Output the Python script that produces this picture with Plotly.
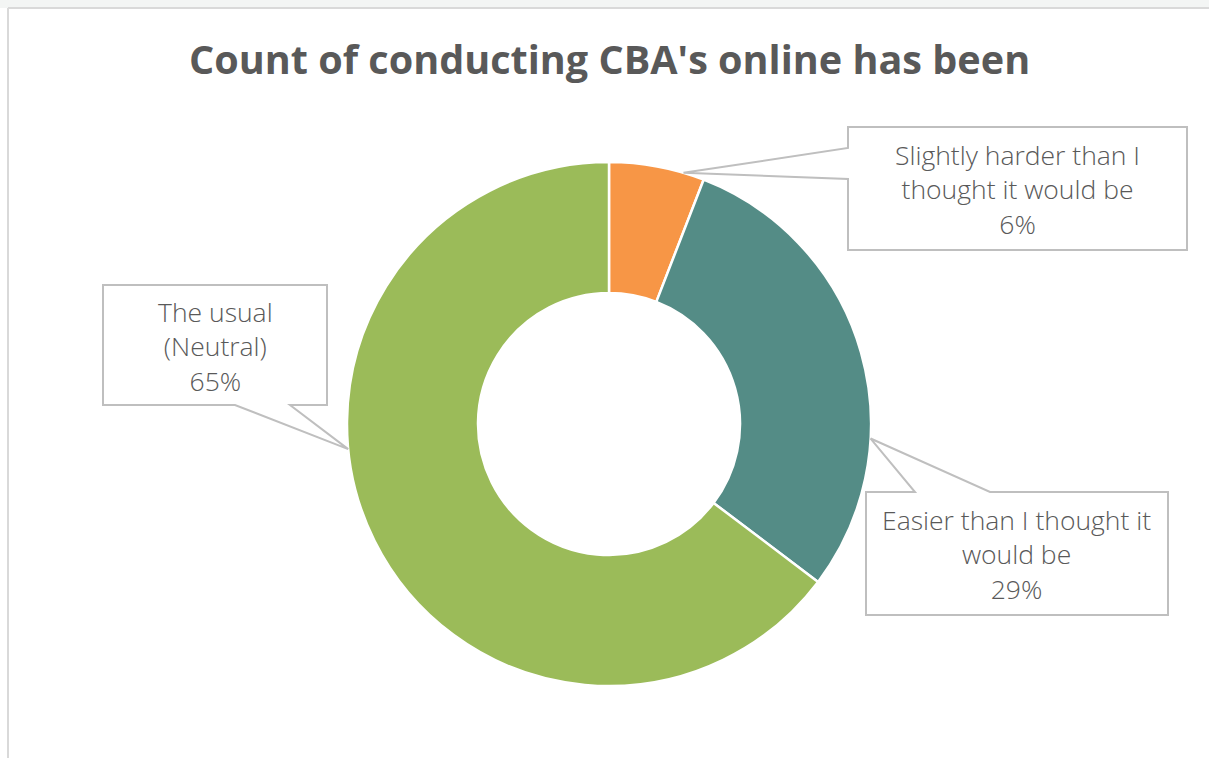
import plotly.graph_objects as go
import math

# ---- data ----
categories = ["Slightly harder than I thought it would be",
              "Easier than I thought it would be",
              "The usual (Neutral)"]
label_lines = [["Slightly harder than I", "thought it would be"],
               ["Easier than I thought it", "would be"],
               ["The usual", "(Neutral)"]]
counts = [1, 5, 11]
colors = ["#F79646", "#548C86", "#9BBB59"]
title = "Count of conducting CBA's online has been"

# ---- layout helpers (pixels) ----
W, H = 1209, 758
CX, CY, R = 609, 424, 262


def px(x, y):
    return x / W, 1 - y / H


total = sum(counts)
pcts = [c / total for c in counts]

fig = go.Figure()
fig.add_trace(go.Pie(
    labels=categories, values=counts, hole=0.5, sort=False,
    direction="clockwise", rotation=0,
    marker=dict(colors=colors, line=dict(color="white", width=2.5)),
    textinfo="none", hoverinfo="label+percent", showlegend=False,
    domain=dict(x=[(CX - R) / W, (CX + R) / W],
                y=[1 - (CY + R) / H, 1 - (CY - R) / H]),
))

# callout boxes: (box l, t, r, b), pointer side, base positions, tip fraction within slice
callouts = [
    dict(box=(848, 127, 1187, 250), side="left", base=(148, 179), frac=0.78),
    dict(box=(866, 492, 1168, 615), side="top", base=(915, 990), frac=0.68),
    dict(box=(103, 285, 327, 405), side="bottom", base=(235, 290), frac=0.59),
]

shapes = []
annotations = []
cum = 0.0
for i, co in enumerate(callouts):
    ang = (cum + pcts[i] * co["frac"]) * 2 * math.pi
    cum += pcts[i]
    tx, ty = CX + R * math.sin(ang), CY - R * math.cos(ang)
    l, t, r, b = co["box"]
    b1, b2 = co["base"]
    if co["side"] == "left":
        pts = [(l, t), (r, t), (r, b), (l, b), (l, b2), (tx, ty), (l, b1)]
    elif co["side"] == "top":
        pts = [(l, t), (b1, t), (tx, ty), (b2, t), (r, t), (r, b), (l, b)]
    else:
        pts = [(l, t), (r, t), (r, b), (b2, b), (tx, ty), (b1, b), (l, b)]
    path = "M " + " L ".join("%.5f,%.5f" % px(x, y) for x, y in pts) + " Z"
    shapes.append(dict(type="path", path=path, xref="paper", yref="paper",
                       fillcolor="white", line=dict(color="#BFBFBF", width=2)))
    text = "<br>".join(label_lines[i] + ["%d%%" % round(pcts[i] * 100)])
    ax, ay = px((l + r) / 2, (t + b) / 2 + 1)
    annotations.append(dict(x=ax, y=ay, xref="paper", yref="paper", text=text,
                            showarrow=False, xanchor="center", yanchor="middle",
                            font=dict(family="Open Sans", size=26.5, color="#595959",
                                      weight=300)))

tx, ty = px(609, 59)
annotations.append(dict(x=tx, y=ty, xref="paper", yref="paper", text="<b>" + title + "</b>",
                        showarrow=False, xanchor="center", yanchor="middle",
                        font=dict(family="Open Sans", size=39.6, color="#595959")))

# frame
background = [
    dict(type="rect", xref="paper", yref="paper", x0=0, x1=1, y0=1 - 8 / H, y1=1,
         fillcolor="#F3F5F4", line=dict(width=0), layer="below"),
    dict(type="line", xref="paper", yref="paper", x0=8 / W, x1=1, y0=1 - 8 / H, y1=1 - 8 / H,
         line=dict(color="#D9D9D9", width=2), layer="below"),
    dict(type="line", xref="paper", yref="paper", x0=8 / W, x1=8 / W, y0=0, y1=1 - 8 / H,
         line=dict(color="#D9D9D9", width=2), layer="below"),
]

fig.update_layout(
    width=W, height=H, margin=dict(l=0, r=0, t=0, b=0),
    paper_bgcolor="white", plot_bgcolor="white",
    shapes=background + shapes, annotations=annotations,
)
fig.write_html("out.html")
